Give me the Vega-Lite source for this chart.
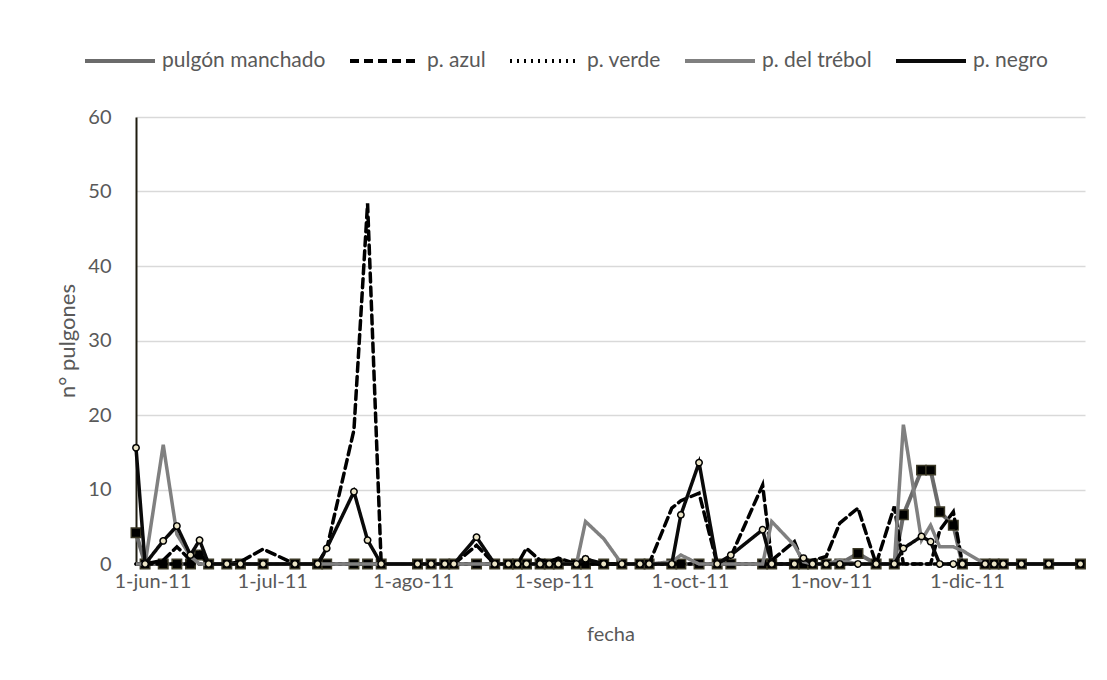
{
  "$schema": "https://vega.github.io/schema/vega-lite/v6.json",
  "width": 949,
  "height": 447,
  "autosize": {"type": "none"},
  "padding": {"left": 136, "top": 117, "right": 22, "bottom": 116},
  "background": "white",
  "config": {"view": {"stroke": null}, "font": "Lato"},
  "data": {"values": [
    {"f": "2011-06-01T00:00", "manchado": 4.2, "azul": 0, "verde": 0, "trebol": 0, "negro": 15.6},
    {"f": "2011-06-03T00:00", "manchado": 0, "azul": 0, "verde": 0, "trebol": 0, "negro": 0},
    {"f": "2011-06-07T00:00", "manchado": 0, "azul": 0.5, "verde": 0, "trebol": 16, "negro": 3.1},
    {"f": "2011-06-10T00:00", "manchado": 0, "azul": 2.3, "verde": 0, "trebol": 4, "negro": 5.1},
    {"f": "2011-06-13T00:00", "manchado": 0, "azul": 0.5, "verde": 0, "trebol": 1, "negro": 1.2},
    {"f": "2011-06-15T00:00", "manchado": 1.2, "azul": 1.5, "verde": 0, "trebol": 0, "negro": 3.2},
    {"f": "2011-06-17T00:00", "manchado": 0, "azul": 0, "verde": 0, "trebol": 0, "negro": 0},
    {"f": "2011-06-21T00:00", "manchado": 0, "azul": 0, "verde": 0, "trebol": 0, "negro": 0},
    {"f": "2011-06-24T00:00", "manchado": 0, "azul": 0.3, "verde": 0, "trebol": 0, "negro": 0},
    {"f": "2011-06-29T00:00", "manchado": 0, "azul": 2, "verde": 0, "trebol": 0, "negro": 0},
    {"f": "2011-07-06T00:00", "manchado": 0, "azul": 0, "verde": 0, "trebol": 0, "negro": 0},
    {"f": "2011-07-11T00:00", "manchado": 0, "azul": 0, "verde": 0, "trebol": 0, "negro": 0},
    {"f": "2011-07-13T00:00", "manchado": 0, "azul": 2, "verde": 0, "trebol": 0, "negro": 2.1},
    {"f": "2011-07-19T00:00", "manchado": 0, "azul": 18, "verde": 0, "trebol": 0, "negro": 9.7},
    {"f": "2011-07-22T00:00", "manchado": 0, "azul": 48.4, "verde": 0, "trebol": 0, "negro": 3.2},
    {"f": "2011-07-25T00:00", "manchado": 0, "azul": 0, "verde": 0, "trebol": 0, "negro": 0},
    {"f": "2011-08-02T00:00", "manchado": 0, "azul": 0, "verde": 0, "trebol": 0, "negro": 0},
    {"f": "2011-08-05T00:00", "manchado": 0, "azul": 0, "verde": 0, "trebol": 0, "negro": 0},
    {"f": "2011-08-08T00:00", "manchado": 0, "azul": 0, "verde": 0, "trebol": 0, "negro": 0},
    {"f": "2011-08-10T00:00", "manchado": 0, "azul": 0, "verde": 0, "trebol": 0, "negro": 0},
    {"f": "2011-08-15T00:00", "manchado": 0, "azul": 2.5, "verde": 0, "trebol": 0, "negro": 3.6},
    {"f": "2011-08-19T00:00", "manchado": 0, "azul": 0, "verde": 0, "trebol": 0, "negro": 0},
    {"f": "2011-08-22T00:00", "manchado": 0, "azul": 0, "verde": 0, "trebol": 0, "negro": 0},
    {"f": "2011-08-24T00:00", "manchado": 0, "azul": 0, "verde": 0, "trebol": 0, "negro": 0},
    {"f": "2011-08-26T00:00", "manchado": 0, "azul": 2.1, "verde": 0, "trebol": 0, "negro": 0},
    {"f": "2011-08-29T00:00", "manchado": 0, "azul": 0.5, "verde": 0, "trebol": 0, "negro": 0},
    {"f": "2011-08-31T00:00", "manchado": 0, "azul": 0.3, "verde": 0, "trebol": 0, "negro": 0},
    {"f": "2011-09-02T00:00", "manchado": 0, "azul": 0.8, "verde": 0, "trebol": 0, "negro": 0},
    {"f": "2011-09-06T00:00", "manchado": 0, "azul": 0, "verde": 0, "trebol": 0, "negro": 0},
    {"f": "2011-09-08T00:00", "manchado": 0, "azul": 0, "verde": 0, "trebol": 5.7, "negro": 0.7},
    {"f": "2011-09-12T00:00", "manchado": 0, "azul": 0, "verde": 0, "trebol": 3.4, "negro": 0},
    {"f": "2011-09-16T00:00", "manchado": 0, "azul": 0, "verde": 0, "trebol": 0, "negro": 0},
    {"f": "2011-09-20T00:00", "manchado": 0, "azul": 0, "verde": 0, "trebol": 0, "negro": 0},
    {"f": "2011-09-22T00:00", "manchado": 0, "azul": 0, "verde": 0, "trebol": 0, "negro": 0},
    {"f": "2011-09-27T00:00", "manchado": 0, "azul": 7.5, "verde": 0, "trebol": 0.3, "negro": 0},
    {"f": "2011-09-29T00:00", "manchado": 0, "azul": 8.5, "verde": 0, "trebol": 1.2, "negro": 6.6},
    {"f": "2011-10-03T00:00", "manchado": 0, "azul": 9.5, "verde": 0, "trebol": 0, "negro": 13.6},
    {"f": "2011-10-07T00:00", "manchado": 0, "azul": 0, "verde": 0, "trebol": 0, "negro": 0},
    {"f": "2011-10-10T00:00", "manchado": 0, "azul": 1, "verde": 0, "trebol": 0, "negro": 1.2},
    {"f": "2011-10-17T00:00", "manchado": 0, "azul": 10.6, "verde": 0, "trebol": 0, "negro": 4.6},
    {"f": "2011-10-19T00:00", "manchado": 0, "azul": 0.5, "verde": 0, "trebol": 5.7, "negro": 0},
    {"f": "2011-10-24T00:00", "manchado": 0, "azul": 3, "verde": 0, "trebol": 2.5, "negro": 0},
    {"f": "2011-10-26T00:00", "manchado": 0, "azul": 0, "verde": 0, "trebol": 0.3, "negro": 0.8},
    {"f": "2011-10-28T00:00", "manchado": 0, "azul": 0.5, "verde": 0, "trebol": 0, "negro": 0},
    {"f": "2011-10-31T00:00", "manchado": 0, "azul": 1, "verde": 0, "trebol": 0, "negro": 0},
    {"f": "2011-11-03T00:00", "manchado": 0, "azul": 5.5, "verde": 0, "trebol": 0.5, "negro": 0},
    {"f": "2011-11-07T00:00", "manchado": 1.4, "azul": 7.5, "verde": 0, "trebol": 0, "negro": 0},
    {"f": "2011-11-11T00:00", "manchado": 0, "azul": 0, "verde": 0, "trebol": 0, "negro": 0},
    {"f": "2011-11-15T00:00", "manchado": 0, "azul": 7.7, "verde": 0, "trebol": 0, "negro": 0},
    {"f": "2011-11-17T00:00", "manchado": 6.6, "azul": 0, "verde": 0, "trebol": 18.7, "negro": 2.1},
    {"f": "2011-11-21T00:00", "manchado": 12.6, "azul": 0, "verde": 0, "trebol": 3.2, "negro": 3.7},
    {"f": "2011-11-23T00:00", "manchado": 12.6, "azul": 0, "verde": 0, "trebol": 5.2, "negro": 3.0},
    {"f": "2011-11-25T00:00", "manchado": 7.0, "azul": 4.5, "verde": 0, "trebol": 2.3, "negro": 0},
    {"f": "2011-11-28T00:00", "manchado": 5.2, "azul": 7, "verde": 0, "trebol": 2.3, "negro": 0},
    {"f": "2011-11-30T00:00", "manchado": 0, "azul": 0, "verde": 0, "trebol": 1.8, "negro": 0},
    {"f": "2011-12-05T00:00", "manchado": 0, "azul": 0, "verde": 0, "trebol": 0, "negro": 0},
    {"f": "2011-12-07T00:00", "manchado": 0, "azul": 0, "verde": 0, "trebol": 0, "negro": 0},
    {"f": "2011-12-09T00:00", "manchado": 0, "azul": 0, "verde": 0, "trebol": 0, "negro": 0},
    {"f": "2011-12-13T00:00", "manchado": 0, "azul": 0, "verde": 0, "trebol": 0, "negro": 0},
    {"f": "2011-12-19T00:00", "manchado": 0, "azul": 0, "verde": 0, "trebol": 0, "negro": 0},
    {"f": "2011-12-26T00:00", "manchado": 0, "azul": 0, "verde": 0, "trebol": 0, "negro": 0}
  ]},
  "transform": [{"fold": ["manchado", "azul", "verde", "trebol", "negro"], "as": ["serie", "n"]}],
  "encoding": {
    "x": {
      "field": "f", "type": "temporal",
      "scale": {"domain": ["2011-06-01T00:00", "2011-12-27T00:00"]},
      "axis": {
        "title": "fecha", "grid": false, "ticks": false, "labelFlush": true, "labelFlushOffset": 22,
        "tickCount": {"interval": "month", "step": 1},
        "labelExpr": "date(datum.value) + '-' + ['ene','feb','mar','abr','may','jun','jul','ago','sep','oct','nov','dic'][month(datum.value)] + '-' + timeFormat(datum.value, '%y')",
        "domainColor": "#d9d9d9", "domainWidth": 1.5,
        "labelFont": "Lato", "labelFontSize": 20, "labelColor": "#595959", "labelPadding": 7,
        "titleFont": "Lato", "titleFontSize": 20, "titleFontWeight": "normal", "titleColor": "#595959", "titlePadding": 33
      }
    },
    "y": {
      "field": "n", "type": "quantitative",
      "scale": {"domain": [0, 60], "nice": false},
      "axis": {
        "title": "n° pulgones", "values": [0, 10, 20, 30, 40, 50, 60],
        "grid": true, "gridColor": "#d9d9d9", "gridWidth": 1.5, "ticks": false,
        "domain": true, "domainColor": "#1f1c10", "domainWidth": 2,
        "labelFont": "Lato", "labelFontSize": 20, "labelColor": "#595959", "labelPadding": 25,
        "titleFont": "Lato", "titleFontSize": 22, "titleFontWeight": "normal", "titleColor": "#595959", "titlePadding": 8
      }
    },
    "color": {
      "field": "serie", "type": "nominal",
      "scale": {"domain": ["manchado", "azul", "verde", "trebol", "negro"], "range": ["#6b6b6b", "#000000", "#000000", "#808080", "#0a0a0a"]},
      "legend": {
        "title": null, "orient": "none", "legendX": -53, "legendY": -93, "direction": "horizontal",
        "symbolType": "stroke", "symbolSize": 4900, "symbolStrokeWidth": 4, "labelLimit": 400,
        "labelFont": "Lato", "labelFontSize": 21, "labelColor": "#595959", "labelOffset": 5, "columnPadding": 16,
        "labelExpr": "{'manchado': 'pulgón manchado', 'azul': 'p. azul', 'verde': 'p. verde', 'trebol': 'p. del trébol', 'negro': 'p. negro'}[datum.label]"
      }
    },
    "strokeDash": {
      "field": "serie", "type": "nominal",
      "scale": {"domain": ["manchado", "azul", "verde", "trebol", "negro"], "range": [[1, 0], [9, 5], [2, 5], [1, 0], [1, 0]]},
      "legend": {
        "title": null, "orient": "none", "legendX": -53, "legendY": -93, "direction": "horizontal",
        "symbolType": "stroke", "symbolSize": 4900, "symbolStrokeWidth": 4, "labelLimit": 400,
        "labelFont": "Lato", "labelFontSize": 21, "labelColor": "#595959", "labelOffset": 5, "columnPadding": 16,
        "labelExpr": "{'manchado': 'pulgón manchado', 'azul': 'p. azul', 'verde': 'p. verde', 'trebol': 'p. del trébol', 'negro': 'p. negro'}[datum.label]"
      }
    }
  },
  "layer": [
    {"transform": [{"filter": "datum.serie === 'manchado'"}], "mark": {"type": "line", "strokeWidth": 4}},
    {"transform": [{"filter": "datum.serie === 'manchado'"}], "mark": {"type": "point", "shape": "square", "filled": true, "fill": "#000000", "stroke": "#3b3826", "strokeWidth": 1.5, "size": 90, "opacity": 1}, "encoding": {"color": {"value": "#000000"}, "strokeDash": {"value": [1, 0]}}},
    {"transform": [{"filter": "datum.serie === 'azul'"}], "mark": {"type": "line", "strokeWidth": 3.5, "strokeCap": "round"}},
    {"transform": [{"filter": "datum.serie === 'verde'"}], "mark": {"type": "line", "strokeWidth": 3.5, "strokeCap": "round"}},
    {"transform": [{"filter": "datum.serie === 'trebol'"}], "mark": {"type": "line", "strokeWidth": 3.5}},
    {"transform": [{"filter": "datum.serie === 'negro'"}], "mark": {"type": "line", "strokeWidth": 3.5}},
    {"transform": [{"filter": "datum.serie === 'negro'"}], "mark": {"type": "point", "shape": "circle", "filled": true, "fill": "#ebe4c6", "stroke": "#000000", "strokeWidth": 1.5, "size": 40, "opacity": 1}, "encoding": {"color": {"value": "#000000"}, "strokeDash": {"value": [1, 0]}}}
  ]
}
